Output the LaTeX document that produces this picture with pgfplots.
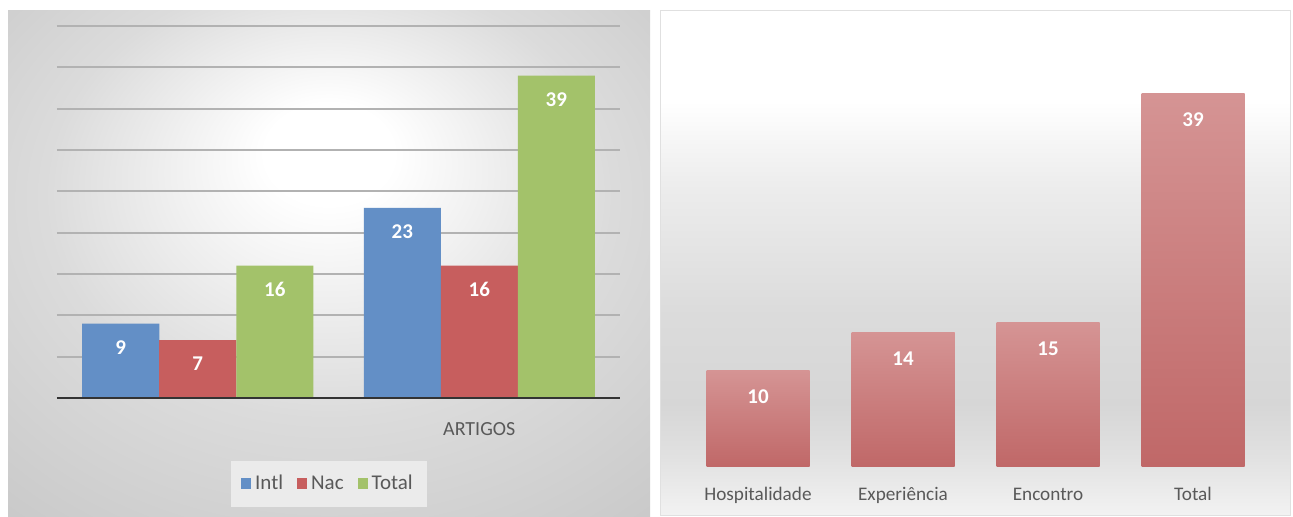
\documentclass[border=0pt]{standalone}
\usepackage{pgfplots}
\pgfplotsset{compat=1.18}
\usepackage{pgfplotstable}
\usepackage{fontspec}
\setmainfont{Carlito}
\definecolor{cblue}{RGB}{99,143,198}
\definecolor{cred}{RGB}{199,94,94}
\definecolor{cgreen}{RGB}{163,194,106}
\definecolor{txtgray}{RGB}{89,89,89}
\definecolor{rtop}{RGB}{213,148,148}
\definecolor{rbot}{RGB}{192,104,104}
\pgfdeclareradialshading{leftbg}{\pgfpoint{0bp}{12bp}}{color(0bp)=(white); color(5bp)=(white); color(22bp)=(black!14); color(40bp)=(black!22); color(50bp)=(black!23)}
\pgfdeclareverticalshading{rightbg}{100bp}{color(0bp)=(black!5); color(25bp)=(black!5); color(31bp)=(black!12); color(36bp)=(black!16); color(45bp)=(black!14); color(58bp)=(black!7); color(66bp)=(white); color(100bp)=(white)}
\pgfplotstableread{
x Intl Nac Total
0 9 7 16
1 23 16 39
}\lefttab
\begin{document}
\begin{tikzpicture}
\useasboundingbox (0,0) rectangle (646.5pt,258pt);
\fill[white] (0,0) rectangle (646.5pt,258pt);
\shade[shading=leftbg] (4pt,0pt) rectangle (325pt,253pt);
\shade[shading=rightbg, draw=black!12] (330pt,0.5pt) rectangle (645pt,253pt);
\begin{axis}[
  scale only axis, width=281.5pt, height=186pt,
  at={(28.5pt,59pt)}, anchor=south west,
  ybar=0pt, bar width=38.5pt,
  xmin=-0.5, xmax=1.5, ymin=0, ymax=45,
  axis line style={draw=none}, major tick length=0pt,
  ytick={5,10,...,45}, yticklabels={},
  ymajorgrids, grid style={black!30, line width=1pt},
  xtick={0,1}, xticklabels={{},ARTIGOS},
  xticklabel style={anchor=base, yshift=-18.5pt, text=txtgray, font=\fontsize{10}{12}\selectfont},
  /pgf/number format/assume math mode=true,
  nodes near coords,
  every node near coord/.append style={anchor=center, yshift=-12pt, text=white, font=\bfseries\fontsize{10.5}{12}\selectfont},
  legend columns=3,
  legend style={at={(0.483,-0.231)}, anchor=center, fill=black!8, draw=none,
    font=\fontsize{10.5}{12}\selectfont, text=txtgray, inner xsep=5pt, inner ysep=5pt,
    /tikz/every even column/.append style={column sep=5pt}},
  legend image code/.code={\fill[#1] (0pt,-2.5pt) rectangle (5pt,2.8pt);},
]
\addplot[fill=cblue, draw=none] table[x=x,y=Intl]{\lefttab};
\addplot[fill=cred, draw=none] table[x=x,y=Nac]{\lefttab};
\addplot[fill=cgreen, draw=none] table[x=x,y=Total]{\lefttab};
\legend{Intl,Nac,Total}
\draw[line width=1.5pt, black!80] (rel axis cs:0,0) -- (rel axis cs:1,0);
\end{axis}
\begin{axis}[
  scale only axis, width=290pt, height=218pt,
  at={(342.75pt,25pt)}, anchor=south west,
  ybar, bar width=51.5pt, bar shift=0pt,
  xmin=-0.5, xmax=3.5, ymin=0, ymax=45.7,
  axis line style={draw=none}, major tick length=0pt,
  ytick=\empty,
  xtick={0,1,2,3}, xticklabels={Hospitalidade,Experiência,Encontro,Total},
  xticklabel style={anchor=base, yshift=-17pt, text=txtgray, font=\fontsize{9.6}{11}\selectfont},
  /pgf/number format/assume math mode=true,
  nodes near coords,
  every node near coord/.append style={anchor=center, yshift=-13pt, text=white, font=\bfseries\fontsize{10.5}{12}\selectfont},
  every axis plot/.append style={draw=none, top color=rtop, bottom color=rbot},
]
\addplot coordinates {(0,10)};
\addplot coordinates {(1,14)};
\addplot coordinates {(2,15)};
\addplot coordinates {(3,39)};
\end{axis}
\end{tikzpicture}
\end{document}
